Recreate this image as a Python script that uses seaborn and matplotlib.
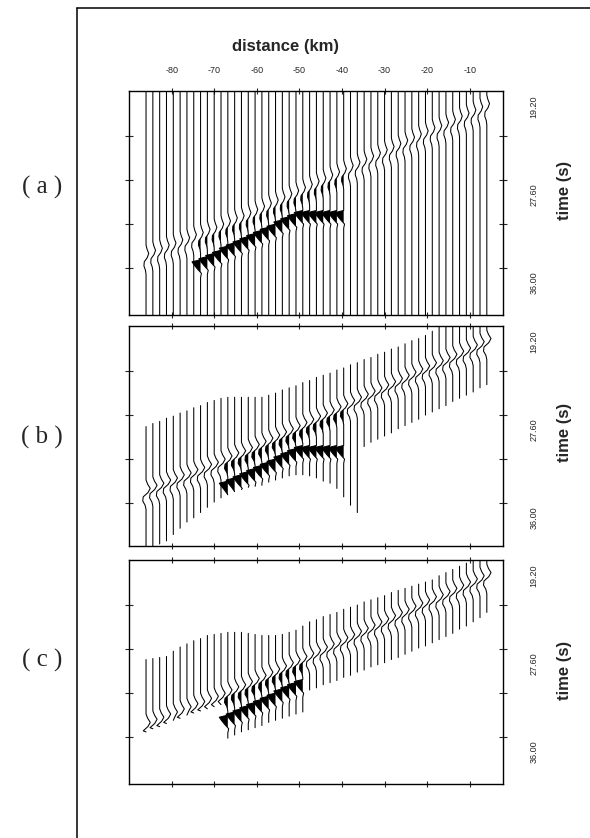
from __future__ import annotations

import matplotlib

matplotlib.use("Agg")
import matplotlib.pyplot as plt
import numpy as np
import pandas as pd
import seaborn as sns

# station offsets along the profile (km)
STATIONS_KM = [
    -86.0, -84.4, -82.8, -81.2, -79.6, -78.0, -76.4, -74.8, -73.2, -71.6,
    -70.0, -68.4, -66.8, -65.2, -63.6, -62.0, -60.4, -58.8, -57.2, -55.6,
    -54.0, -52.4, -50.8, -49.2, -47.6, -46.0, -44.4, -42.8, -41.2, -39.6,
    -38.0, -36.4, -34.8, -33.2, -31.6, -30.0, -28.4, -26.8, -25.2, -23.6,
    -22.0, -20.4, -18.8, -17.2, -15.6, -14.0, -12.4, -10.8, -9.2, -7.6, -6.0,
]

# first arrival (s), one per station
P1_TIME_S = [
    33.6, 33.3, 33.1, 32.8, 32.6, 32.3, 32.1, 31.8, 31.6, 31.3,
    31.1, 30.8, 30.5, 30.2, 30.0, 29.7, 29.4, 29.1, 28.8, 28.5,
    28.2, 27.9, 27.6, 27.3, 27.0, 26.7, 26.4, 26.1, 25.8, 25.5,
    25.2, 24.9, 24.6, 24.3, 24.0, 23.7, 23.4, 23.1, 22.8, 22.5,
    22.2, 21.9, 21.6, 21.4, 21.1, 20.8, 20.5, 20.2, 19.9, 19.6, 19.3,
]

# strong (filled) phase, nan where absent
nan = float("nan")
P2_TIME_S = [
    nan, nan, nan, nan, nan, nan, nan, nan, 34.0, 33.7,
    33.4, 33.1, 32.7, 32.4, 32.1, 31.8, 31.5, 31.2, 30.9, 30.6,
    30.2, 29.9, 29.6, 29.3, 29.3, 29.3, 29.3, 29.3, 29.3, 29.3,
    nan, nan, nan, nan, nan, nan, nan, nan, nan, nan,
    nan, nan, nan, nan, nan, nan, nan, nan, nan, nan, nan,
]

# trace windows (s) for panels b and c
B_START_S = [
    27.3, 27.0, 26.8, 26.5, 26.3, 26.0, 25.8, 25.5, 25.3, 25.0,
    24.8, 24.6, 24.5, 24.5, 24.5, 24.5, 24.5, 24.5, 24.3, 24.1,
    23.8, 23.6, 23.4, 23.1, 22.9, 22.6, 22.4, 22.2, 21.9, 21.7,
    21.4, 21.2, 20.9, 20.7, 20.4, 20.2, 19.9, 19.7, 19.4, 19.1,
    18.9, 18.6, 18.2, 17.7, 17.7, 17.7, 17.7, 17.7, 17.7, 17.7, 17.7,
]
B_END_S = [
    38.7, 38.7, 38.5, 38.2, 37.6, 37.0, 36.4, 36.0, 35.5, 35.0,
    34.5, 34.1, 33.8, 33.5, 33.3, 33.1, 33.0, 32.9, 32.6, 32.4,
    32.2, 32.0, 31.9, 31.9, 32.0, 32.2, 32.5, 32.7, 33.2, 34.0,
    34.8, 35.5, 29.2, 28.8, 28.5, 28.2, 27.9, 27.5, 27.2, 26.9,
    26.6, 26.2, 25.9, 25.6, 25.3, 24.9, 24.6, 24.3, 24.0, 23.6, 23.3,
]
C_START_S = [
    27.2, 27.1, 27.0, 26.9, 26.4, 26.0, 25.7, 25.4, 25.2, 24.9,
    24.8, 24.7, 24.6, 24.6, 24.6, 24.7, 24.8, 24.9, 24.9, 24.9,
    24.8, 24.6, 24.4, 24.0, 23.6, 23.4, 23.1, 22.9, 22.7, 22.4,
    22.2, 22.0, 21.7, 21.5, 21.3, 21.1, 20.8, 20.6, 20.4, 20.2,
    20.0, 19.8, 19.6, 19.2, 18.9, 18.6, 18.3, 18.0, 17.7, 17.7, 17.7,
]
C_END_S = [
    34.1, 33.8, 33.6, 33.3, 33.0, 32.8, 32.5, 32.3, 32.1, 31.9,
    31.7, 31.5, 34.7, 34.4, 34.1, 33.9, 33.7, 33.5, 33.2, 33.0,
    32.8, 32.6, 32.4, 32.2, 30.1, 29.9, 29.6, 29.4, 29.2, 28.9,
    28.7, 28.4, 28.2, 27.9, 27.7, 27.5, 27.2, 27.0, 26.7, 26.4,
    26.1, 25.9, 25.6, 25.3, 25.0, 24.7, 24.3, 24.0, 23.6, 23.2, 22.7,
]

# wavelet shapes (offset s, relative amplitude)
WIGGLE_T = [-1.2, -0.8, -0.4, 0.0, 0.4, 0.8, 1.2, 1.6]
WIGGLE_A = [0.0, 0.35, 0.9, 0.4, -0.6, -0.7, -0.2, 0.0]
WEDGE_T = [-0.2, 0.0, 0.3, 0.7, 1.1, 1.5]
WEDGE_A = [0.0, -1.0, -0.75, -0.35, 0.1, 0.0]

X_TICKS = [-80, -70, -60, -50, -40, -30, -20, -10]
X_TICK_LABELS = ["-80", "-70", "-60", "-50", "-40", "-30", "-20", "-10"]
T_LABEL_TICKS = [19.2, 27.6, 36.0]
T_LABELS = ["19.20", "27.60", "36.00"]
T_MINOR_TICKS = [22.0, 26.2, 30.4, 34.6]

PANEL_NAMES = ["( a )", "( b )", "( c )"]
WIGGLE_GAIN = [0.7, 1.1, 1.1]
FIG_W, FIG_H = 590, 838
T_TOP = 17.7
PX_PER_S = 10.48


def build_trace(station: float, t0: float, t1: float, p1: float, p2: float,
                wedge_on: bool, gain: float) -> tuple[list[float], list[float], list[bool]]:
    pts = {t0: 0.0, t1: 0.0}
    filled = {}
    for dt, a in zip(WIGGLE_T, WIGGLE_A):
        t = p1 + dt
        if t0 < t < t1:
            pts[t] = pts.get(t, 0.0) + gain * a
    if wedge_on and not np.isnan(p2):
        for dt, a in zip(WEDGE_T, WEDGE_A):
            t = p2 + dt
            if t0 < t < t1:
                pts[t] = pts.get(t, 0.0) + 2.0 * a
                filled[t] = True
    ts = sorted(pts)
    xs = [station + pts[t] for t in ts]
    return ts, xs, [filled.get(t, False) for t in ts]


def draw_panel(ax, starts, ends, wedge_range, t_bottom, top_labels, gain, label_y):
    rows = []
    for i, st in enumerate(STATIONS_KM):
        on = wedge_range[0] <= i <= wedge_range[1]
        ts, xs, fl = build_trace(st, starts[i], ends[i], P1_TIME_S[i], P2_TIME_S[i],
                                 on, gain)
        for t, x in zip(ts, xs):
            rows.append({"trace": i, "x": x, "t": t})
        if any(fl):
            ax.fill_betweenx(ts, st, xs, where=[x < st for x in xs],
                             color="black", lw=0, interpolate=True)
    df = pd.DataFrame(rows)
    sns.lineplot(data=df, x="x", y="t", units="trace", estimator=None, sort=False,
                 color="black", linewidth=0.75, ax=ax, legend=False)
    ax.set_xlim(-90.0, -2.2)
    ax.set_ylim(t_bottom, T_TOP)
    ax.set_xlabel("")
    ax.set_ylabel("")
    ax.set_xticks(X_TICKS)
    ax.set_xticklabels(X_TICK_LABELS, fontsize=6.5, family="Liberation Sans")
    ax.tick_params(axis="x", top=True, bottom=True, direction="inout", length=5,
                   width=0.8, labelbottom=False, labeltop=top_labels, pad=9)
    ax.yaxis.tick_right()
    ax.set_yticks(T_LABEL_TICKS)
    ax.set_yticklabels(T_LABELS, rotation=90, va="center", fontsize=6.5,
                       family="Liberation Sans")
    ax.set_yticks(T_MINOR_TICKS, minor=True)
    ax.tick_params(axis="y", which="major", length=0, pad=19)
    ax.tick_params(axis="y", which="minor", left=True, right=True,
                   direction="inout", length=6, width=0.8)
    for sp in ax.spines.values():
        sp.set_linewidth(1.0)
        sp.set_color("black")
    ax.text(1.165, label_y, "time (s)", transform=ax.transAxes, rotation=90,
            ha="center", va="center", fontsize=12, fontweight="bold",
            family="Liberation Sans")


def main() -> None:
    sns.set_theme(style="white")
    fig = plt.figure(figsize=(FIG_W / 100, FIG_H / 100), dpi=100)
    fig.patch.set_facecolor("white")

    # top px, bottom px, starts, ends, wedge stations, side label px, time label px
    panels = [
        (91, 315, [T_TOP] * len(STATIONS_KM), None, (8, 29), 187, 190),
        (326, 546, B_START_S, B_END_S, (12, 29), 437, 432),
        (560, 784, C_START_S, C_END_S, (12, 23), 660, 670),
    ]
    for k, (top, bottom, starts, ends, wr, side_y, time_y) in enumerate(panels):
        ax = fig.add_axes([129 / FIG_W, 1 - bottom / FIG_H, 374 / FIG_W,
                           (bottom - top) / FIG_H])
        t_bottom = T_TOP + (bottom - top) / PX_PER_S
        if ends is None:
            ends = [t_bottom] * len(STATIONS_KM)
        draw_panel(ax, starts, ends, wr, t_bottom, top_labels=(k == 0),
                   gain=WIGGLE_GAIN[k], label_y=(bottom - time_y) / (bottom - top))
        fig.text(42 / FIG_W, 1 - side_y / FIG_H, PANEL_NAMES[k],
                 ha="center", va="center", fontsize=18, family="Liberation Serif")

    fig.text(285 / FIG_W, 1 - 47 / FIG_H, "distance (km)", ha="center", va="center",
             fontsize=12, fontweight="bold", family="Liberation Sans")
    fig.add_artist(plt.Line2D([77 / FIG_W, 77 / FIG_W], [0, 1 - 8 / FIG_H],
                              color="black", lw=1.1))
    fig.add_artist(plt.Line2D([77 / FIG_W, 1], [1 - 8 / FIG_H, 1 - 8 / FIG_H],
                              color="black", lw=1.1))
    fig.savefig("out.png", dpi=100, facecolor="white")
    plt.close(fig)


if __name__ == "__main__":
    main()
